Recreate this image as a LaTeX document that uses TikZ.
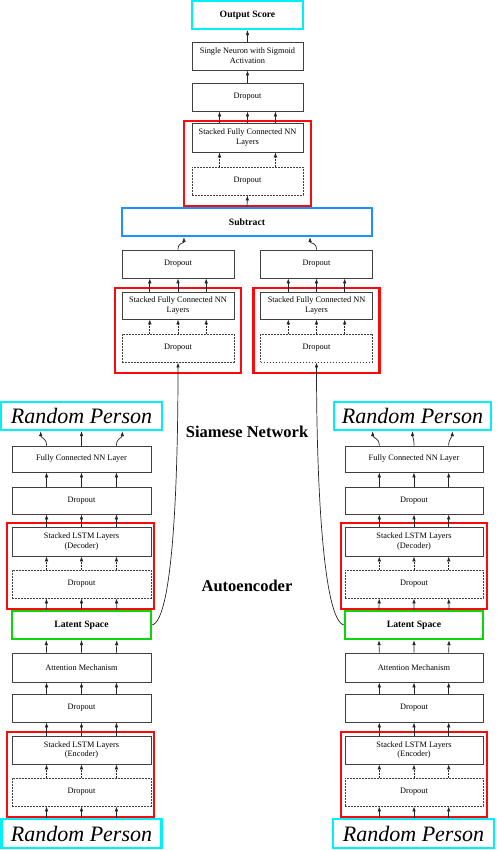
\documentclass[tikz,border=0pt]{standalone}
\usepackage{fontspec}
\setmainfont{Liberation Serif}
\usetikzlibrary{calc,arrows.meta}
\newcommand\regf{\fontsize{8.3}{9.7}\selectfont}
\newcommand\boldf{\fontsize{9.7}{11}\selectfont\bfseries}
\newcommand\bigf{\fontsize{16.5}{18}\selectfont\bfseries}
\newcommand\sigf{\fontsize{22}{24}\selectfont\itshape}
\definecolor{mycyan}{RGB}{0,240,250}
\definecolor{myblue}{RGB}{30,144,255}
\definecolor{myred}{RGB}{250,10,10}
\definecolor{mygreen}{RGB}{10,215,10}
\newcommand{\arrs}[4]{\foreach \f in {#4}{\draw[#3] ($(#1.north west)!\f!(#1.north east)$) -- ($(#2.south west)!\f!(#2.south east)$);}}
\newcommand{\curvs}[2]{\foreach \f in {0.25,0.5,0.75}{\path ($(#1.north west)!\f!(#1.north east)$) coordinate (aa) ($(#2.south west)!\f!(#2.south east)$) coordinate (bb); \draw[arr] (aa) .. controls ($(aa)+(0,-8)$) and ($(bb)+(0,7)$) .. (bb);}}
\newcommand{\upfrom}[2]{\foreach \f in {0.25,0.5,0.75}{\path ($(#2.south west)!\f!(#2.south east)$) coordinate (tt); \draw[arr] (tt |- #1.north) -- (tt);}}
\begin{document}
\begin{tikzpicture}[x=1pt,y=-1pt,
  blk/.style={draw=black!75,line width=0.8pt,inner sep=0pt,align=center,font=\regf,minimum width=#1},
  blk/.default=111pt,
  dotbox/.style={blk=#1,dash pattern=on 1.6pt off 1.4pt},
  dotbox/.default=111pt,
  colbox/.style={draw=#1,line width=2.2pt,inner sep=0pt,align=center},
  redbox/.style={colbox=myred},
  arr/.style={draw=black!85,line width=0.7pt,-{Latex[length=5pt,width=3.6pt]}},
  darr/.style={arr,dash pattern=on 1.6pt off 1.4pt},
  sig/.style={colbox=mycyan,font=\sigf,minimum height=28pt}
]
\useasboundingbox (0,0) rectangle (496,850);

% ---------- top column ----------
\node[redbox,minimum width=127pt,minimum height=85pt] (tred) at (247.5,163.5) {};
\node[colbox=mycyan,font=\boldf,minimum width=111pt,minimum height=28pt] (out) at (247.5,15) {Output Score};
\node[blk,minimum height=28pt] (neu) at (247.5,56) {Single Neuron with Sigmoid\\Activation};
\node[blk,minimum height=28pt] (tdr) at (247.5,97) {Dropout};
\node[blk,minimum height=29pt] (tfc) at (247.5,137.5) {Stacked Fully Connected NN\\Layers};
\node[dotbox,minimum height=28pt] (tdd) at (247.5,181) {Dropout};
\node[colbox=myblue,font=\boldf,minimum width=250pt,minimum height=28pt] (sub) at (247,222) {Subtract};

% ---------- siamese columns ----------
\node[redbox,minimum width=126pt,minimum height=85pt] (lred) at (178,330.5) {};
\node[blk=112pt,minimum height=28pt] (ldr) at (178,264) {Dropout};
\node[blk=112pt,minimum height=27pt] (lfc) at (178,305.5) {Stacked Fully Connected NN\\Layers};
\node[dotbox=112pt,minimum height=28pt] (ldd) at (178,348) {Dropout};

\node[redbox,minimum width=126pt,minimum height=85pt] (rred) at (316.5,330.5) {};
\node[blk=112pt,minimum height=28pt] (rdr) at (316.5,264) {Dropout};
\node[blk=112pt,minimum height=27pt] (rfc) at (316.5,305.5) {Stacked Fully Connected NN\\Layers};
\node[dotbox=112pt,minimum height=28pt] (rdd) at (316.5,348) {Dropout};

% ---------- labels ----------
\node[font=\bigf] (lsiam) at (247,432) {Siamese Network};
\node[font=\bigf] (lauto) at (247,586) {Autoencoder};

% ---------- left LSTM column ----------
\node[redbox,minimum width=147pt,minimum height=86pt] (redDL) at (80.5,566) {};
\node[redbox,minimum width=147pt,minimum height=85pt] (redEL) at (80.5,774.5) {};
\node[sig,minimum width=161pt] (rpTL) at (81.5,416) {Random Person};
\node[blk=139pt,minimum height=26pt] (fcL) at (81.5,459) {Fully Connected NN Layer};
\node[blk=139pt,minimum height=27pt] (d1L) at (81.5,500.5) {Dropout};
\node[blk=139pt,minimum height=29pt] (decL) at (81.5,541.5) {Stacked LSTM Layers\\(Decoder)};
\node[dotbox=139pt,minimum height=28pt] (ddDL) at (81.5,584) {Dropout};
\node[colbox=mygreen,font=\boldf,minimum width=139pt,minimum height=28pt] (latL) at (81.5,625) {Latent Space};
\node[blk=139pt,minimum height=29pt] (attL) at (81.5,667.5) {Attention Mechanism};
\node[blk=139pt,minimum height=28pt] (d2L) at (81.5,708) {Dropout};
\node[blk=139pt,minimum height=28pt] (encL) at (81.5,750) {Stacked LSTM Layers\\(Encoder)};
\node[dotbox=139pt,minimum height=28pt] (ddEL) at (81.5,792) {Dropout};
\node[sig,minimum width=160pt,minimum height=29pt] (rpBL) at (81.5,833.5) {Random Person};

% ---------- right LSTM column ----------
\node[redbox,minimum width=146pt,minimum height=86pt] (redDR) at (414,566) {};
\node[redbox,minimum width=146pt,minimum height=85pt] (redER) at (414,774.5) {};
\node[sig,minimum width=157pt] (rpTR) at (412.5,416) {Random Person};
\node[blk=138pt,minimum height=26pt] (fcR) at (414,459) {Fully Connected NN Layer};
\node[blk=138pt,minimum height=27pt] (d1R) at (414,500.5) {Dropout};
\node[blk=138pt,minimum height=29pt] (decR) at (414,541.5) {Stacked LSTM Layers\\(Decoder)};
\node[dotbox=138pt,minimum height=28pt] (ddDR) at (414,584) {Dropout};
\node[colbox=mygreen,font=\boldf,minimum width=138pt,minimum height=28pt] (latR) at (414,625) {Latent Space};
\node[blk=138pt,minimum height=29pt] (attR) at (414,667.5) {Attention Mechanism};
\node[blk=138pt,minimum height=28pt] (d2R) at (414,708) {Dropout};
\node[blk=138pt,minimum height=28pt] (encR) at (414,750) {Stacked LSTM Layers\\(Encoder)};
\node[dotbox=138pt,minimum height=28pt] (ddER) at (414,792) {Dropout};
\node[sig,minimum width=161pt,minimum height=29pt] (rpBR) at (413.5,833.5) {Random Person};

% ---------- top column arrows ----------
\draw[arr] (neu.north) -- (out.south);
\draw[arr] (tdr.north) -- (neu.south);
\arrs{tfc}{tdr}{arr}{0.25,0.5,0.75}
\arrs{tdd}{tfc}{darr}{0.25,0.75}
\draw[arr] (sub.north) -- (tdd.south);

% ---------- siamese arrows ----------
\path ($(sub.south west)!0.25!(sub.south east)$) coordinate (s1) ($(sub.south west)!0.75!(sub.south east)$) coordinate (s2);
\draw[arr] (ldr.north) .. controls ($(ldr.north)+(0,-8)$) and ($(s1)+(0,7)$) .. (s1);
\draw[arr] (rdr.north) .. controls ($(rdr.north)+(0,-8)$) and ($(s2)+(0,7)$) .. (s2);
\arrs{lfc}{ldr}{arr}{0.25,0.5,0.75}
\arrs{ldd}{lfc}{darr}{0.25,0.5,0.75}
\arrs{rfc}{rdr}{arr}{0.25,0.5,0.75}
\arrs{rdd}{rfc}{darr}{0.25,0.5,0.75}

% ---------- long connectors ----------
\draw[arr] (latL.east) .. controls ($(latL.east)+(20,-5)$) and ($(ldd.south)+(0,130)$) .. (ldd.south);
\draw[arr] (latR.west) .. controls ($(latR.west)+(-20,-5)$) and ($(rdd.south)+(0,130)$) .. (rdd.south);

% ---------- LSTM arrows ----------
\upfrom{rpBL}{ddEL}
\arrs{ddEL}{encL}{darr}{0.25,0.5,0.75}
\arrs{encL}{d2L}{arr}{0.25,0.5,0.75}
\arrs{d2L}{attL}{arr}{0.25,0.5,0.75}
\arrs{attL}{latL}{arr}{0.25,0.5,0.75}
\arrs{latL}{ddDL}{arr}{0.25,0.5,0.75}
\arrs{ddDL}{decL}{darr}{0.25,0.5,0.75}
\arrs{decL}{d1L}{arr}{0.25,0.5,0.75}
\arrs{d1L}{fcL}{arr}{0.25,0.5,0.75}
\curvs{fcL}{rpTL}

\upfrom{rpBR}{ddER}
\arrs{ddER}{encR}{darr}{0.25,0.5,0.75}
\arrs{encR}{d2R}{arr}{0.25,0.5,0.75}
\arrs{d2R}{attR}{arr}{0.25,0.5,0.75}
\arrs{attR}{latR}{arr}{0.25,0.5,0.75}
\arrs{latR}{ddDR}{arr}{0.25,0.5,0.75}
\arrs{ddDR}{decR}{darr}{0.25,0.5,0.75}
\arrs{decR}{d1R}{arr}{0.25,0.5,0.75}
\arrs{d1R}{fcR}{arr}{0.25,0.5,0.75}
\curvs{fcR}{rpTR}
\end{tikzpicture}
\end{document}
